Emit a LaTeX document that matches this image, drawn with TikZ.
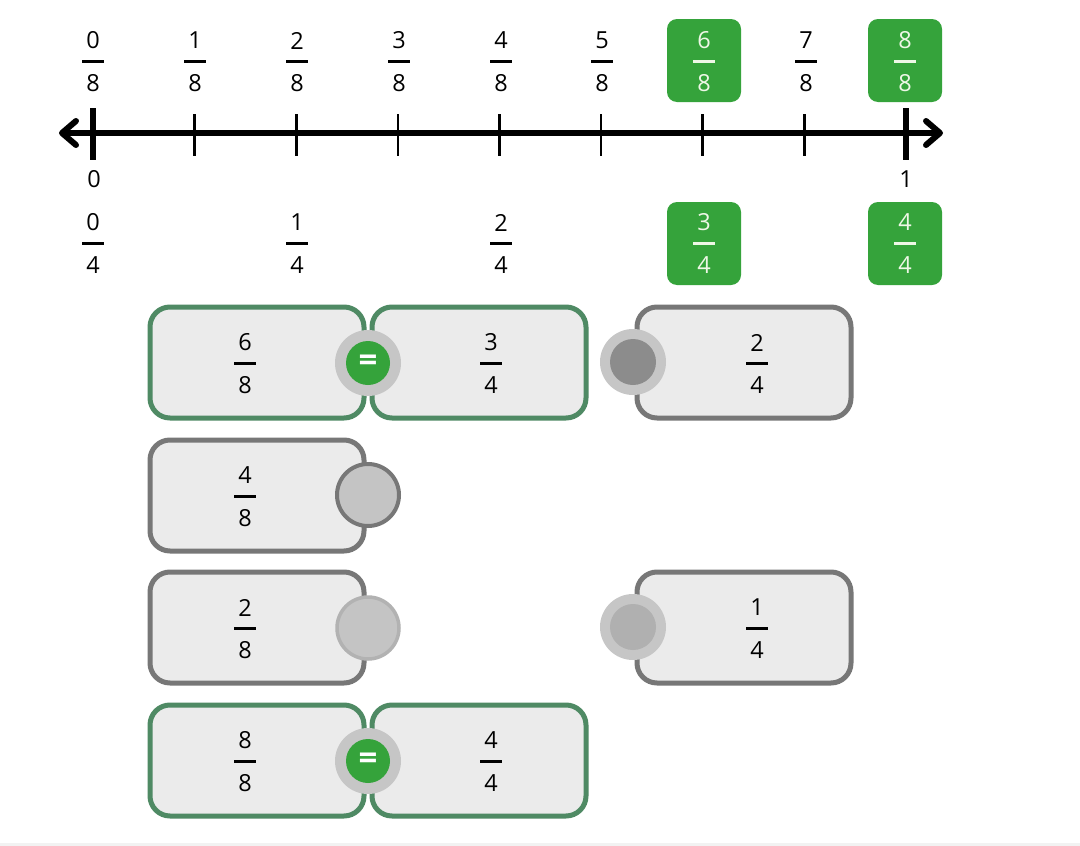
\documentclass[tikz,border=0pt]{standalone}
\usepackage{fontspec}
\setmainfont{Open Sans}
\definecolor{cardfill}{HTML}{EBEBEB}
\definecolor{cardgrey}{HTML}{777777}
\definecolor{cardgreen}{HTML}{4F8A64}
\definecolor{boxgreen}{HTML}{35A33B}
\definecolor{boxtext}{HTML}{EEF7E6}
\definecolor{ringgrey}{HTML}{C6C6C6}
\definecolor{dotdark}{HTML}{8C8C8C}
\definecolor{dotlight}{HTML}{B0B0B0}
\definecolor{knobfill}{HTML}{C4C4C4}
\definecolor{knobedge}{HTML}{B2B2B2}
\definecolor{bottomline}{HTML}{F2F2F2}
\newcommand\frc[6][black]{%
  \node[fnum,text=#1] (#2n) at (#3,#4-20.5) {#5};
  \node[fnum,text=#1] (#2d) at (#3,#4+22) {#6};
  \draw[fbar,draw=#1] (#3-11,#4) -- (#3+11,#4);
}
\begin{document}
\begin{tikzpicture}[x=1pt,y=-1pt,
  fnum/.style={inner sep=0pt,font=\fontsize{23.5}{26}\selectfont},
  fbar/.style={line width=3pt},
  axis/.style={line width=6.5pt},
  chev/.style={line width=6pt,line cap=round,line join=round},
  smalltick/.style={line width=2.6pt},
  bigtick/.style={line width=5.5pt},
  gbox/.style={fill=boxgreen,rounded corners=10pt,minimum width=74pt,minimum height=83pt,inner sep=0pt},
  card/.style={line width=5pt,rounded corners=20pt,fill=cardfill,minimum width=214pt,minimum height=111pt,inner sep=0pt},
  greencard/.style={card,draw=cardgreen},
  greycard/.style={card,draw=cardgrey},
  eqring/.style={circle,fill=ringgrey,minimum size=66pt,inner sep=0pt},
  eqdot/.style={circle,fill=boxgreen,minimum size=44pt,inner sep=0pt,text=white,font=\fontsize{33}{33}\bfseries\selectfont},
  ring/.style={circle,fill=ringgrey,minimum size=66pt,inner sep=0pt},
  dot/.style={circle,minimum size=46pt,inner sep=0pt},
  knob/.style={circle,fill=knobfill,minimum size=62pt,inner sep=0pt},
]
\useasboundingbox (0,0) rectangle (1080,846);
\fill[white] (0,0) rectangle (1080,846);
\fill[bottomline] (0,843) rectangle (1080,846);

% green highlight boxes
\node[gbox] (g68) at (704,60.5) {};
\node[gbox] (g88) at (905,60.5) {};
\node[gbox] (g34) at (704,243.5) {};
\node[gbox] (g44) at (905,243.5) {};

% number line
\coordinate (L) at (62,133);
\coordinate (R) at (940,133);
\draw[axis] (L) -- (R);
\draw[chev] (76,121) -- (L) -- (76,145);
\draw[chev] (926,121) -- (R) -- (926,145);
\foreach \i in {1,...,7} \draw[smalltick] ({93+101.625*\i},114) -- ++(0,42);
\draw[bigtick] (93,108) -- (93,160);
\draw[bigtick] (906,108) -- (906,160);

% eighths
\frc{e0}{93}{61}{0}{8}
\frc{e1}{195}{61}{1}{8}
\frc{e2}{297}{61}{2}{8}
\frc{e3}{399}{61}{3}{8}
\frc{e4}{501}{61}{4}{8}
\frc{e5}{602}{61}{5}{8}
\frc[boxtext]{e6}{704}{61}{6}{8}
\frc{e7}{806}{61}{7}{8}
\frc[boxtext]{e8}{905}{61}{8}{8}

% whole numbers
\node[fnum] (zero) at (94,179) {0};
\node[fnum] (one) at (906,179) {1};

% fourths
\frc{q0}{93}{243}{0}{4}
\frc{q1}{297}{243}{1}{4}
\frc{q2}{501}{243}{2}{4}
\frc[boxtext]{q3}{704}{243}{3}{4}
\frc[boxtext]{q4}{905}{243}{4}{4}

% row 1
\node[greencard] (c68) at (257,362.5) {};
\node[greencard] (c34) at (479,362.5) {};
\node[greycard] (c24) at (744,362.5) {};
\frc{r68}{245}{363}{6}{8}
\frc{r34}{491}{363}{3}{4}
\frc{r24}{757}{363}{2}{4}
\node[eqring] (eq1) at (368,363) {};
\node[eqdot] (eq1d) at (eq1) {=};
\node[ring] (k24) at (633,362) {};
\node[dot,fill=dotdark] (k24d) at (k24) {};

% row 2
\node[greycard] (c48) at (257,495.5) {};
\frc{r48}{245}{496}{4}{8}
\node[knob,draw=cardgrey,line width=4pt] (k48) at (368,495) {};

% row 3
\node[greycard] (c28) at (257,627.5) {};
\node[greycard] (c14) at (744,627.5) {};
\frc{r28}{245}{628}{2}{8}
\frc{r14}{757}{628}{1}{4}
\node[knob,draw=knobedge,line width=3.5pt] (k28) at (368,628) {};
\node[ring] (k14) at (633,627) {};
\node[dot,fill=dotlight] (k14d) at (k14) {};

% row 4
\node[greencard] (c88) at (257,760.5) {};
\node[greencard] (c44) at (479,760.5) {};
\frc{r88}{245}{761}{8}{8}
\frc{r44}{491}{761}{4}{4}
\node[eqring] (eq4) at (368,761) {};
\node[eqdot] (eq4d) at (eq4) {=};
\end{tikzpicture}
\end{document}
